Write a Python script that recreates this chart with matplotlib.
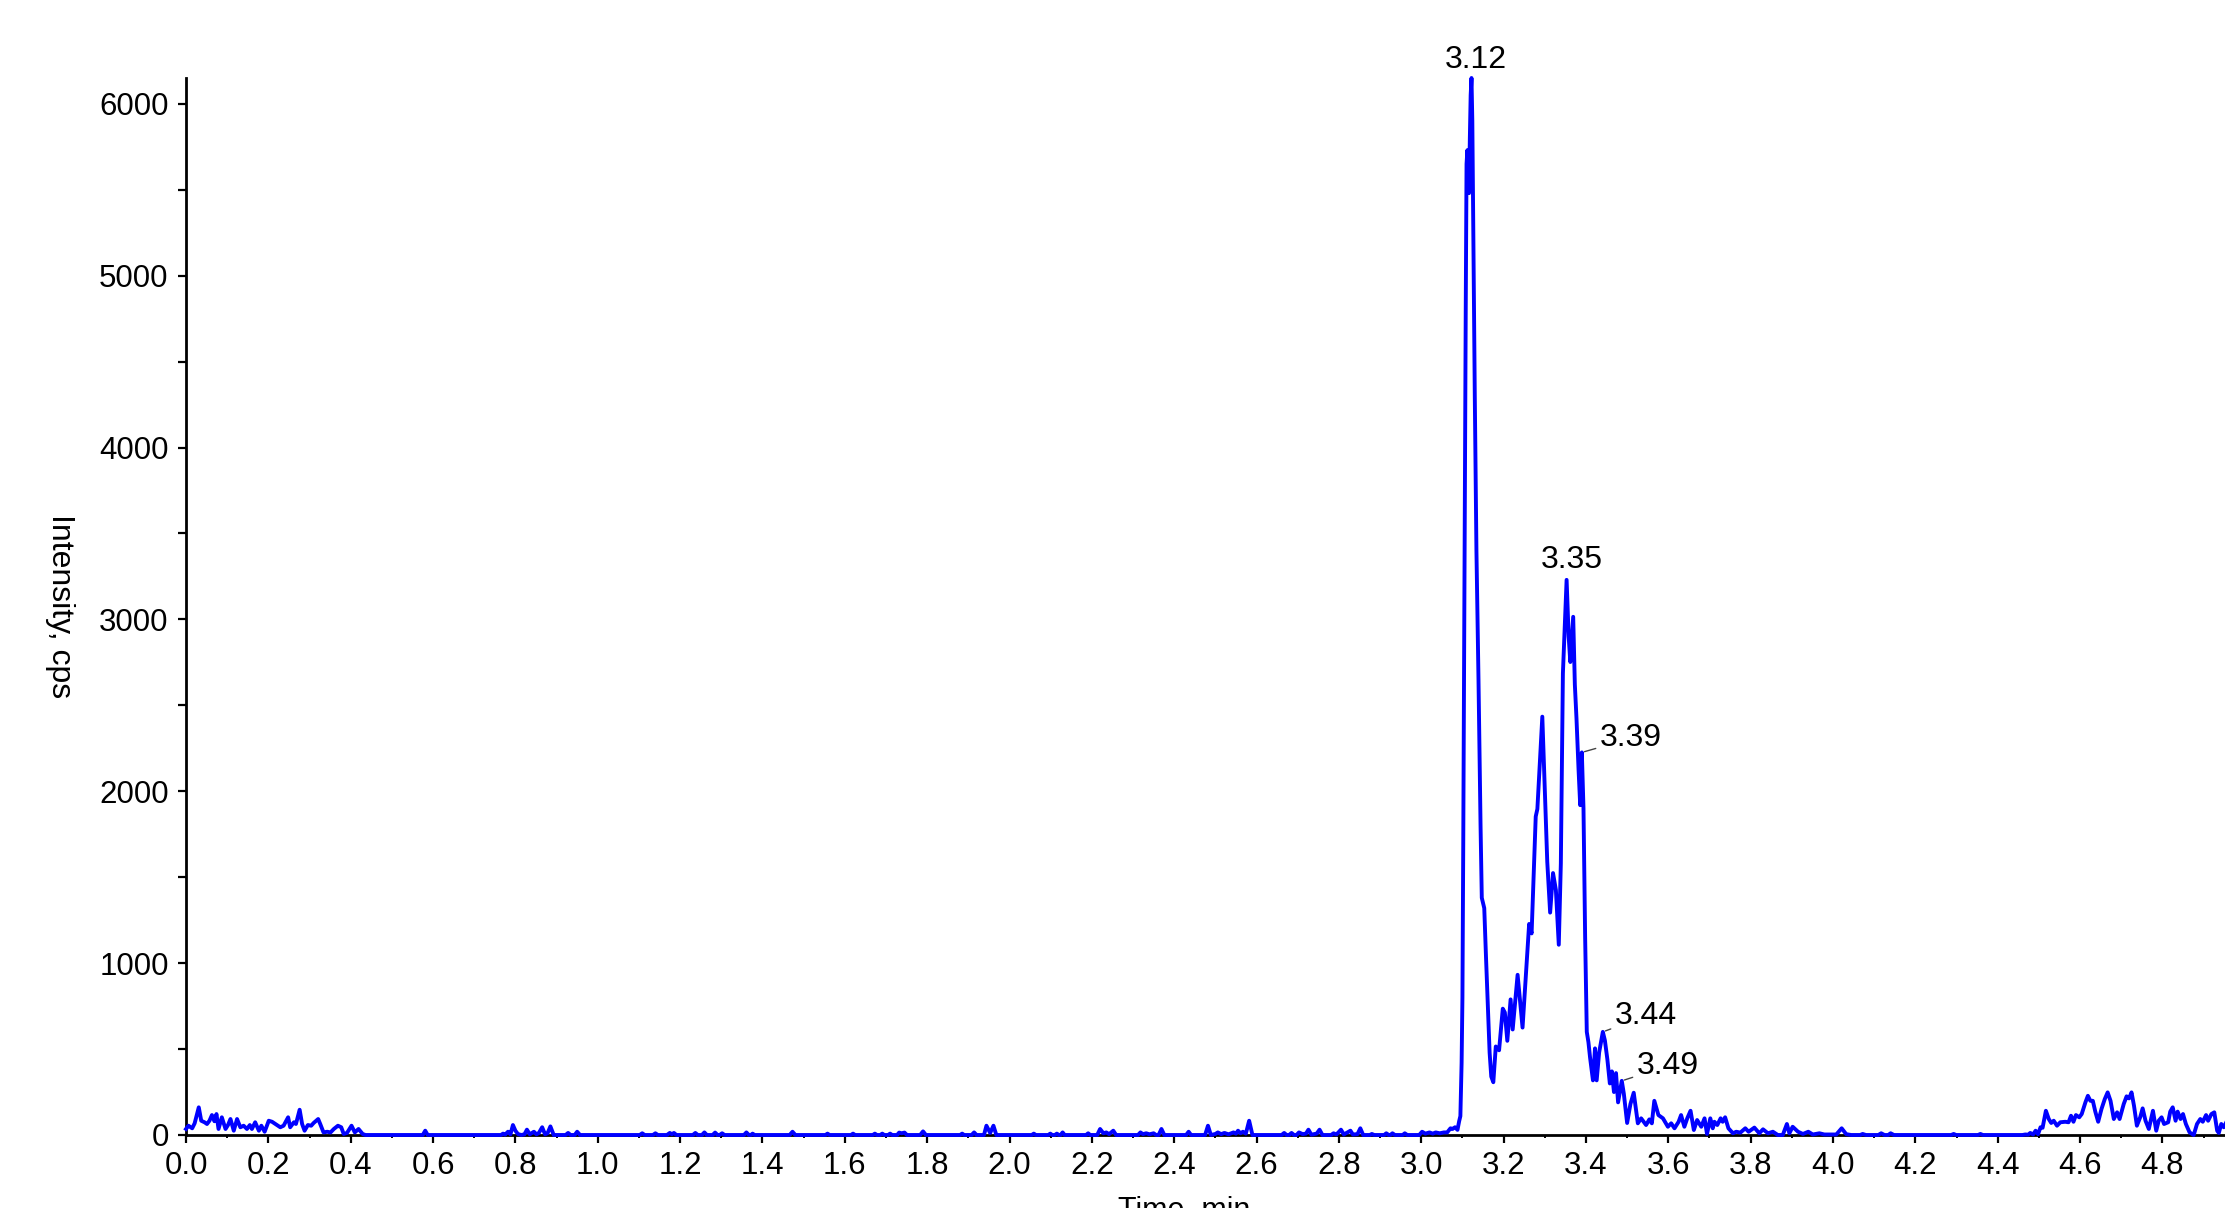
import numpy as np
import matplotlib
matplotlib.use("Agg")
import matplotlib.pyplot as plt
from matplotlib.ticker import MultipleLocator, FixedLocator

# ---------------- data (time in min, intensity in cps) ----------------
t_early = [0.000, 0.006, 0.015, 0.021, 0.031, 0.037, 0.045, 0.051, 0.057, 0.063,
           0.069, 0.074, 0.079, 0.087, 0.096, 0.102, 0.108, 0.116, 0.124, 0.132,
           0.140, 0.148, 0.155, 0.160, 0.168, 0.177, 0.183, 0.191, 0.201, 0.209,
           0.217, 0.229, 0.237, 0.248, 0.253, 0.262, 0.267, 0.276, 0.282, 0.288,
           0.296, 0.304, 0.310, 0.321, 0.326, 0.334, 0.343, 0.351, 0.359, 0.369,
           0.377, 0.383, 0.391, 0.402, 0.410, 0.419, 0.429, 0.436]
i_early = [35, 54, 39, 68, 161, 83, 74, 64, 83, 116,
           80, 122, 35, 103, 35, 58, 93, 25, 93, 45,
           54, 35, 58, 35, 74, 25, 54, 19, 83, 77,
           64, 45, 54, 103, 45, 74, 64, 147, 64, 25,
           58, 54, 70, 93, 64, 15, 19, 15, 35, 54,
           45, 6, 12, 54, 15, 35, 6, 0]

t_mid = [0.575, 0.581, 0.587, 0.765, 0.770, 0.775, 0.782, 0.788, 0.794, 0.800,
         0.806, 0.814, 0.822, 0.828, 0.835, 0.845, 0.851, 0.857, 0.865, 0.872,
         0.878, 0.885, 0.893, 0.922, 0.928, 0.934, 0.944, 0.950, 0.957, 1.102,
         1.108, 1.114, 1.134, 1.140, 1.146, 1.168, 1.175, 1.180, 1.185, 1.191,
         1.231, 1.237, 1.243, 1.253, 1.259, 1.265, 1.279, 1.285, 1.291, 1.296,
         1.302, 1.308, 1.355, 1.361, 1.367, 1.372, 1.376, 1.381, 1.466, 1.473,
         1.480, 1.553, 1.558, 1.563, 1.615, 1.620, 1.625, 1.668, 1.673, 1.678,
         1.686, 1.691, 1.696, 1.705, 1.710, 1.715, 1.727, 1.732, 1.738, 1.745,
         1.751, 1.783, 1.790, 1.797, 1.880, 1.885, 1.890, 1.908, 1.914, 1.920,
         1.938, 1.944, 1.953, 1.961, 1.968, 2.054, 2.059, 2.064, 2.094, 2.099,
         2.104, 2.110, 2.115, 2.120, 2.124, 2.129, 2.134, 2.186, 2.191, 2.196,
         2.213, 2.220, 2.228, 2.235, 2.242, 2.252, 2.259, 2.312, 2.318, 2.324,
         2.332, 2.340, 2.350, 2.356, 2.362, 2.369, 2.376, 2.429, 2.435, 2.441,
         2.475, 2.482, 2.489, 2.500, 2.506, 2.514, 2.522, 2.532, 2.544, 2.550,
         2.555, 2.561, 2.567, 2.574, 2.582, 2.590, 2.661, 2.667, 2.673, 2.679,
         2.685, 2.691, 2.697, 2.703, 2.712, 2.720, 2.726, 2.733, 2.740, 2.746,
         2.753, 2.760, 2.781, 2.787, 2.794, 2.805, 2.812, 2.828, 2.834, 2.845,
         2.852, 2.859, 2.875, 2.880, 2.886, 2.910, 2.915, 2.921, 2.925, 2.930,
         2.936, 2.955, 2.960, 2.966, 2.995, 3.002, 3.010, 3.020, 3.028, 3.035,
         3.045, 3.055, 3.063, 3.071, 3.076]
i_mid = [0, 25, 0, 0, 8, 2, 19, 4, 58, 25,
         6, 0, 4, 31, 4, 19, 4, 12, 45, 4,
         10, 50, 0, 0, 12, 0, 0, 19, 0, 0,
         10, 0, 0, 10, 0, 0, 12, 4, 12, 0,
         0, 12, 0, 0, 15, 0, 0, 14, 0, 0,
         10, 0, 0, 15, 0, 0, 8, 0, 0, 19,
         0, 0, 8, 0, 0, 8, 0, 0, 8, 0,
         0, 8, 0, 0, 8, 0, 0, 14, 10, 14,
         0, 0, 21, 0, 0, 8, 0, 0, 15, 0,
         0, 54, 12, 54, 0, 0, 8, 0, 0, 8,
         0, 0, 8, 0, 0, 15, 0, 0, 10, 0,
         0, 35, 10, 15, 5, 25, 0, 0, 15, 5,
         10, 4, 10, 0, 0, 35, 0, 0, 19, 0,
         0, 54, 0, 6, 15, 5, 12, 4, 15, 8,
         25, 10, 19, 8, 83, 0, 0, 12, 0, 0,
         12, 0, 0, 15, 5, 8, 31, 2, 5, 8,
         31, 0, 0, 10, 3, 31, 3, 25, 3, 5,
         39, 0, 0, 6, 0, 0, 10, 0, 0, 10,
         0, 0, 10, 0, 0, 19, 8, 15, 8, 15,
         10, 15, 15, 39, 35]

t_peak = [3.082, 3.088, 3.092, 3.095, 3.098, 3.100, 3.102, 3.105, 3.108, 3.110,
          3.112, 3.114, 3.116, 3.118, 3.120, 3.122, 3.124, 3.127, 3.130, 3.134,
          3.139, 3.144, 3.147, 3.150, 3.153, 3.157, 3.161, 3.166, 3.170, 3.175,
          3.181, 3.189, 3.198, 3.203, 3.209, 3.217, 3.222, 3.234, 3.246, 3.256,
          3.262, 3.268, 3.278, 3.282, 3.294, 3.306, 3.313, 3.320, 3.327, 3.334,
          3.339, 3.344, 3.353, 3.358, 3.362, 3.369, 3.373, 3.377, 3.382, 3.386,
          3.390, 3.394, 3.398, 3.402, 3.406, 3.410, 3.417, 3.422, 3.426, 3.432,
          3.441]
i_peak = [45, 30, 80, 110, 420, 800, 1700, 3300, 4800, 5650,
          5730, 5550, 5480, 5800, 6050, 6150, 5900, 5100, 4300, 3400,
          2650, 1800, 1380, 1350, 1320, 1050, 800, 480, 340, 307,
          515, 493, 735, 713, 548, 789, 614, 932, 625, 1000,
          1228, 1173, 1853, 1897, 2434, 1590, 1294, 1524, 1425, 1107,
          1580, 2686, 3230, 2900, 2752, 3015, 2621, 2423, 2127, 1919,
          2226, 1900, 1150, 600, 540, 450, 318, 504, 318, 480,
          600]

t_tail = [3.446, 3.452, 3.458, 3.463, 3.468, 3.473, 3.478, 3.487, 3.492, 3.500,
          3.508, 3.516, 3.526, 3.534, 3.546, 3.554, 3.560, 3.566, 3.576, 3.587,
          3.599, 3.607, 3.615, 3.625, 3.631, 3.639, 3.646, 3.654, 3.662, 3.670,
          3.680, 3.688, 3.694, 3.702, 3.708, 3.712, 3.719, 3.727, 3.732, 3.738,
          3.746, 3.757, 3.765, 3.775, 3.787, 3.795, 3.809, 3.821, 3.830, 3.842,
          3.854, 3.866, 3.878, 3.888, 3.894, 3.902, 3.915, 3.927, 3.940, 3.951,
          3.967, 3.979, 3.995, 4.008, 4.021, 4.032, 4.044, 4.066, 4.072, 4.080,
          4.110, 4.117, 4.125, 4.134, 4.140, 4.148]
i_tail = [550, 440, 300, 370, 250, 360, 190, 315, 240, 70,
          180, 246, 68, 97, 58, 91, 68, 199, 116, 97,
          48, 68, 39, 77, 116, 48, 97, 141, 29, 87,
          48, 97, 6, 97, 39, 77, 58, 97, 77, 103,
          39, 10, 19, 14, 39, 19, 43, 10, 33, 10,
          19, 0, 0, 64, 10, 48, 19, 6, 19, 3,
          10, 3, 3, 3, 39, 5, 0, 0, 6, 0,
          0, 10, 0, 0, 10, 0]

t_late = [4.287, 4.293, 4.299, 4.352, 4.358, 4.364, 4.460, 4.467, 4.474, 4.479,
          4.486, 4.492, 4.498, 4.504, 4.509, 4.517, 4.524, 4.530, 4.536, 4.544,
          4.552, 4.564, 4.572, 4.578, 4.584, 4.590, 4.598, 4.604, 4.613, 4.619,
          4.625, 4.631, 4.637, 4.644, 4.652, 4.660, 4.667, 4.674, 4.682, 4.690,
          4.696, 4.706, 4.713, 4.719, 4.725, 4.731, 4.738, 4.746, 4.752, 4.759,
          4.767, 4.777, 4.785, 4.791, 4.798, 4.804, 4.814, 4.819, 4.825, 4.832,
          4.837, 4.844, 4.850, 4.857, 4.866, 4.876, 4.884, 4.892, 4.898, 4.906,
          4.911, 4.919, 4.926, 4.933, 4.937, 4.943, 4.949, 4.957]
i_late = [0, 6, 0, 0, 6, 0, 0, 3, 2, 12,
          3, 25, 5, 45, 42, 141, 93, 70, 83, 54,
          74, 77, 74, 112, 77, 116, 103, 122, 190, 228,
          199, 199, 136, 77, 151, 209, 248, 199, 93, 132,
          93, 180, 225, 213, 248, 170, 54, 103, 155, 83,
          35, 141, 25, 83, 103, 64, 74, 136, 161, 83,
          136, 93, 122, 64, 15, 0, 64, 93, 77, 116,
          83, 122, 132, 25, 12, 64, 45, 83]

# peak labels: (retention time, intensity at apex, label text)
peak_times = [3.122, 3.353, 3.390, 3.441, 3.487]
peak_heights = [6150, 3230, 2226, 600, 315]
peak_labels = ["3.12", "3.35", "3.39", "3.44", "3.49"]

x_ticks = [round(0.2 * k, 1) for k in range(25)]
y_ticks = [0, 1000, 2000, 3000, 4000, 5000, 6000]

# ---------------- figure ----------------
plt.rcParams['font.family'] = ['Liberation Sans', 'DejaVu Sans']

W, H = 2225, 1208
fig = plt.figure(figsize=(W / 100, H / 100), dpi=100)
ax = fig.add_axes([186 / W, 1 - 1135 / H, (W - 186) / W, (1135 - 78) / H])

t_all = np.concatenate([t_early, t_mid, t_peak, t_tail, t_late])
i_all = np.concatenate([i_early, i_mid, i_peak, i_tail, i_late])
ax.plot(t_all, i_all, color='#0000FF', lw=2.8, zorder=4, clip_on=False,
        solid_joinstyle='round')

ax.set_xlim(0, 4.952)
ax.set_ylim(0, 6150)

for s in ['top', 'right']:
    ax.spines[s].set_visible(False)
for s in ['left', 'bottom']:
    ax.spines[s].set_linewidth(2.0)
    ax.spines[s].set_zorder(3)

ax.xaxis.set_major_locator(FixedLocator(x_ticks))
ax.set_xticklabels([f"{v:.1f}" for v in x_ticks])
ax.xaxis.set_minor_locator(MultipleLocator(0.1))
ax.yaxis.set_major_locator(FixedLocator(y_ticks))
ax.yaxis.set_minor_locator(MultipleLocator(500))

ax.tick_params(axis='x', which='major', length=5.5, width=1.6, pad=6, labelsize=22.5)
ax.tick_params(axis='x', which='minor', length=2.5, width=1.4)
ax.tick_params(axis='y', which='major', length=5.5, width=1.6, pad=7, labelsize=22.5)
ax.tick_params(axis='y', which='minor', length=5.5, width=1.6)

ax.set_ylabel("Intensity, cps", rotation=270, fontsize=23, va='center')
ax.yaxis.set_label_coords(-0.062, 0.5)

fig.text(1184 / W, 1 - 1196 / H, "Time, min", fontsize=22, ha='center', va='top')

# peak annotations
offsets = [(4, 3, 'center', 'bottom', False),
           (5, 5, 'center', 'bottom', False),
           (18, 14, 'left', 'center', True),
           (12, 16, 'left', 'center', True),
           (15, 15, 'left', 'center', True)]
for (pt, ph, lab), (dx, dy, ha, va, leader) in zip(
        zip(peak_times, peak_heights, peak_labels), offsets):
    kw = {}
    if leader:
        kw['arrowprops'] = dict(arrowstyle='-', color='#444444', lw=1.0,
                                shrinkA=1, shrinkB=2)
    ax.annotate(lab, xy=(pt, ph), xytext=(dx, dy), textcoords='offset pixels',
                ha=ha, va=va, fontsize=23, annotation_clip=False, **kw)

fig.savefig("out.png", dpi=100)
